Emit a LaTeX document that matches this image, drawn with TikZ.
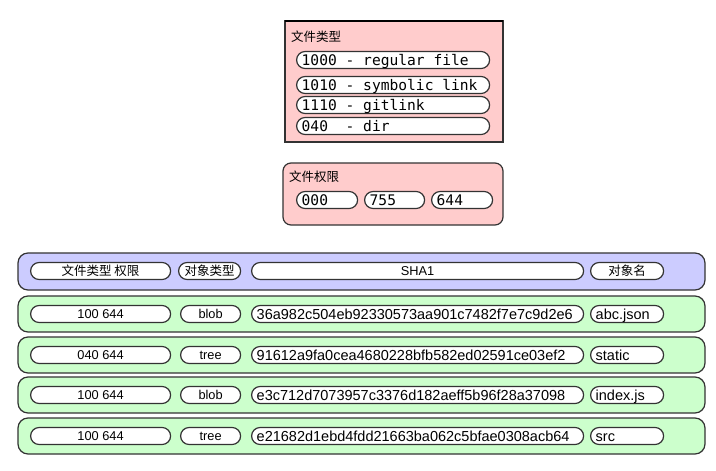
\documentclass[tikz,border=0pt]{standalone}
\usepackage{fontspec}
\setmainfont{Liberation Sans}
\newfontfamily\monof{DejaVu Sans Mono}
\newfontfamily\cjk{Noto Sans CJK SC}
\definecolor{pinkf}{HTML}{FFCCCC}
\definecolor{bluef}{HTML}{CCCCFF}
\definecolor{greenf}{HTML}{CCFFCC}
\definecolor{edgec}{HTML}{333333}
\tikzset{
  pill/.style={draw=edgec, fill=white, line width=1.2pt, rounded corners=8.5pt,
    minimum height=17pt, inner sep=0pt},
  boxc/.style={draw=edgec, line width=1.2pt},
  rowc/.style={boxc, rounded corners=10pt},
  lbl/.style={inner sep=0pt},
  hashf/.style={font=\fontsize{14.5}{16}\selectfont},
  midf/.style={font=\fontsize{12.8}{14}\selectfont},
  cjkf/.style={font=\cjk\fontsize{12.5}{14}\selectfont},
  monofnt/.style={font=\monof\fontsize{14.6}{17}\selectfont},
}
% name, x1, x2, yc, style, text (left aligned)
\newcommand\pillL[6]{%
  \pgfmathsetmacro\pw{#3-#2}%
  \node[pill, minimum width=\pw pt, anchor=west] (#1) at (#2,#4) {};%
  \node[lbl, #5, anchor=base west] (#1t) at ([xshift=5.5pt,yshift=-5.2pt]#1.west) {#6};%
}
% centered
\newcommand\pillC[6]{%
  \pgfmathsetmacro\pw{#3-#2}%
  \node[pill, minimum width=\pw pt, anchor=west] (#1) at (#2,#4) {};%
  \node[lbl, #5, anchor=base] (#1t) at ([yshift=-4.6pt]#1.center) {#6};%
}
\begin{document}
\begin{tikzpicture}[x=1pt,y=-1pt]
\useasboundingbox (0,0) rectangle (716,471);
% --- file type box
\draw[boxc, fill=pinkf] (285,21) rectangle (503,142);
\draw[draw=black, line width=2pt] (285,21) -- (503,21);
\node[lbl, cjkf, anchor=base west] (ftitle) at (291,41.5) {文件类型};
\pillL{t1}{296}{489}{60}{monofnt}{1000 - regular file}
\pillL{t2}{296}{489}{85}{monofnt}{1010 - symbolic link}
\pillL{t3}{296}{489}{105}{monofnt}{1110 - gitlink}
\pillL{t4}{296}{489}{126}{monofnt}{040\ \ - dir}
% --- permission box
\draw[boxc, fill=pinkf, rounded corners=8pt] (283,163) rectangle (503,225);
\node[lbl, cjkf, anchor=base west] (ptitle) at (289,181.5) {文件权限};
\pillL{p1}{296}{357}{200}{monofnt}{000}
\pillL{p2}{364}{424}{200}{monofnt}{755}
\pillL{p3}{431}{492}{200}{monofnt}{644}
% --- header row
\draw[rowc, fill=bluef] (18,253) rectangle (705,290);
\pillC{h1}{30}{170}{271}{cjkf}{文件类型 权限}
\pillC{h2}{178}{240}{271}{cjkf}{对象类型}
\pillC{h3}{251}{583}{271}{midf}{SHA1}
\pillC{h4}{590}{663}{271}{cjkf}{对象名}
% --- data rows
\draw[rowc, fill=greenf] (18,296) rectangle (705,332);
\pillC{a1}{30}{170}{314}{midf}{100 644}
\pillC{a2}{180}{240}{314}{midf}{blob}
\pillL{a3}{251}{583}{314}{hashf}{36a982c504eb92330573aa901c7482f7e7c9d2e6}
\pillL{a4}{590}{663}{314}{hashf}{abc.json}

\draw[rowc, fill=greenf] (18,337) rectangle (705,373);
\pillC{b1}{30}{170}{355}{midf}{040 644}
\pillC{b2}{180}{240}{355}{midf}{tree}
\pillL{b3}{251}{583}{355}{hashf}{91612a9fa0cea4680228bfb582ed02591ce03ef2}
\pillL{b4}{590}{663}{355}{hashf}{static}

\draw[rowc, fill=greenf] (18,377) rectangle (705,413);
\pillC{c1}{30}{170}{395}{midf}{100 644}
\pillC{c2}{180}{240}{395}{midf}{blob}
\pillL{c3}{251}{583}{395}{hashf}{e3c712d7073957c3376d182aeff5b96f28a37098}
\pillL{c4}{590}{663}{395}{hashf}{index.js}

\draw[rowc, fill=greenf] (18,418) rectangle (705,454);
\pillC{d1}{30}{170}{436}{midf}{100 644}
\pillC{d2}{180}{240}{436}{midf}{tree}
\pillL{d3}{251}{583}{436}{hashf}{e21682d1ebd4fdd21663ba062c5bfae0308acb64}
\pillL{d4}{590}{663}{436}{hashf}{src}
\end{tikzpicture}
\end{document}
